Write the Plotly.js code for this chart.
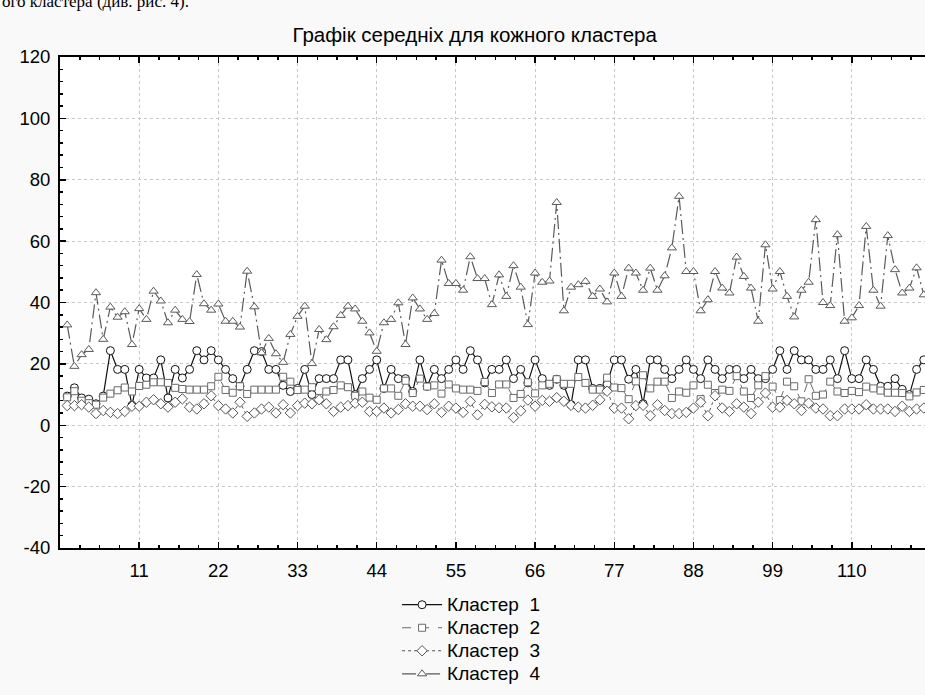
<!DOCTYPE html>
<html>
<head>
<meta charset="utf-8">
<script src="https://cdn.plot.ly/plotly-3.0.1.min.js"></script>
<style>
html,body{margin:0;padding:0;overflow:hidden;background:#f9f9f9;}
#chart{width:940px;height:695px;}
#chart .legendtext{font-size:19px !important;}
#chart .legend .scrollbox{clip-path:none !important;}
</style>
</head>
<body>
<div id="chart"></div>
<script>
// Variable index (x categories)
const variables = Array.from({length:120},(_,k)=>k+1);
const tickValues = [11,22,33,44,55,66,77,88,99,110];
const tickLabels = ['11','22','33','44','55','66','77','88','99','110'];
const yTickValues = [-40,-20,0,20,40,60,80,100,120];
const yTickLabels = ['-40','-20','0','20','40','60','80','100','120'];
const seriesNames = ['Кластер\u00a0 1','Кластер\u00a0 2','Кластер\u00a0 3','Кластер\u00a0 4'];

const cluster1 = [9.5,12.2,8.9,8.5,7,9.5,24.3,18.2,18.2,6.5,
18.2,15.4,15.4,21.3,8.9,18.2,15.4,18.2,24.3,21.3,
24.3,21.3,18.2,15.2,12.7,18.2,24.3,24,18.2,18.2,
13,11,12,18.2,10,15.2,15.2,15.2,21.3,21.3,
10,15.2,18.2,21.3,12,18.2,15.2,15.2,11,21.3,
12.7,18.2,15.2,18.2,21.3,18.2,24.3,21.3,13.8,18.2,
18.2,21.3,15.2,18.2,13.8,21.3,15.2,13,15,13,
6.7,21.3,21.3,12,12,13.5,21.3,21.3,15,18.2,
7,21.3,21.3,18.2,15.2,18.2,21.3,18.2,15.2,21.3,
18.2,15.2,18.2,18.2,15.2,18.2,15.2,15.2,18.2,24.3,
18.2,24.3,21.3,21.3,18.2,18.2,21.3,15.2,24.3,15.2,
15.2,21.3,18.2,12.7,12.7,15.2,11.7,10,18.2,21.3];

const cluster2 = [9.1,11.1,8,7.2,6.7,9,10.3,11.4,12.3,11,
12.8,13.2,14,14,13.8,12.2,11.8,11.6,11.6,11.6,
12.7,15.8,11.5,10.6,12.7,10.2,11.6,11.6,11.6,11.6,
15.8,14.2,11.5,11.6,12.4,8.9,11,11.5,13,12.4,
9.6,11,9,8.3,12,12,9.6,14.5,10.5,15.2,
12.6,13,10.3,13.3,12,11.6,11.6,11.2,14.1,10.5,
13.3,13.3,8.9,10.2,14,10.4,13,13.5,15,13.5,
13.5,15.7,13.8,11.6,11.6,15.5,12.3,12.1,8.5,14.3,
16.3,12,14.2,14.2,8.9,11,10.6,13,8.5,13.2,
10.5,11.6,11.2,16,11,8.9,13,16,12.6,8.2,
14.2,12.7,7.8,15,9.6,10,14.2,11,10.5,11.2,
10.8,12.6,12,11.3,10.6,10.6,10.5,9.4,10.7,11.5];

const cluster3 = [6.4,6.4,6.7,5.9,3.8,4.8,4.2,3.8,4.5,6.2,
6.2,7.5,8.3,7,5.9,7.5,8.6,5.9,5.3,7,
9.6,6.4,5.3,4,7.5,2.9,4,5.3,5.9,4,
6.7,4,6.4,7.2,7,8.3,7,4.5,5.9,6.4,
7.2,7.5,4.5,4.5,5.6,4,5.1,7,6.2,6.2,
5.1,7,4.2,6.2,5.6,4.2,7.8,3.4,6.8,6,
5.7,5.6,2.5,4.7,8.2,6.2,8.1,7.8,9,7.8,
6.5,5.9,5.6,6.5,8.3,11.1,5.6,5.6,2.1,6.4,
6.5,3.1,6.7,4.8,3.8,3.8,4.2,5.6,7.5,3.1,
9.6,5.6,4.5,7,5.9,3.8,7.5,10.5,5.9,5.9,
8.1,7,4.8,7.2,5.6,5.3,3.1,3.1,5.3,5.3,
5.3,6.7,5.3,5.3,5.3,4.5,6.2,4.5,5.3,5.6];

const cluster4 = [32.7,19.2,23,24.7,43.2,28,38.5,35.2,37,26.3,
38,34.5,43.7,40.5,33.4,37.5,34.5,33.8,49.1,39.6,
37.5,39.5,33.9,33.9,32,50.2,38.6,23.6,28.3,23.3,
20.5,29.6,35.5,38.8,20.1,31.2,27.9,32.1,35.8,38.8,
37.9,33.9,30.1,24.1,33.4,34.5,39.9,26.3,41.5,37.9,
34.5,36.4,53.8,46.2,46.2,44,54.9,47.8,47.8,39.3,
49,42,52,45,32.8,49.6,46.6,47,72.6,37.3,
45,45.8,46.9,42,44.4,40.2,49.6,42,51.2,49.6,
44,51.2,44,48.7,57.8,74.6,50.1,50.1,37.3,40.9,
50.1,44.7,43.1,54.8,48.5,44.7,33.9,58.8,44.4,50.1,
42,35.3,44,46.6,67,40,39,62.1,33.9,35,
39,64.8,44,38.8,61.8,50.7,43.1,44.7,51.3,42.5];

const FONT = 'Arial, "Liberation Sans", sans-serif';

function mk(name, y, sym, col, dash, lw, msize){
  return {
    x: variables, y: y, name: name, type: 'scatter', mode: 'lines+markers',
    line: {color: col, width: lw, dash: dash},
    marker: {symbol: sym, size: msize, color: '#ffffff', line: {color: col, width: 1}},
    cliponaxis: true
  };
}

const traces = [
  mk(seriesNames[0], cluster1, 'circle', '#111111', 'solid', 1.2, 8),
  mk(seriesNames[1], cluster2, 'square', '#6a6a6a', 'dash', 1, 7),
  mk(seriesNames[2], cluster3, 'diamond', '#555555', 'dot', 1, 8),
  mk(seriesNames[3], cluster4, 'triangle-up', '#5a5a5a', '14px,4px,2px,4px', 1.2, 8)
];

const layout = {
  width: 940, height: 695,
  margin: {l: 60, r: 9, t: 57, b: 147, autoexpand: false},
  paper_bgcolor: '#f9f9f9', plot_bgcolor: '#ffffff',
  font: {family: FONT, size: 18.5, color: '#000'},
  title: {text: 'Графік середніх для кожного кластера', xref: 'container', x: 0.505, xanchor: 'center', y: 0.95, yanchor: 'middle', font: {size: 20.5, family: FONT}},
  showlegend: true,
  legend: {x: 0.3870, xanchor: 'left', y: -0.0819, yanchor: 'top', bgcolor: 'rgba(0,0,0,0)', font: {size: 15.4, family: FONT}, tracegroupgap: 0, itemwidth: 40},
  xaxis: {
    range: [0, 121], tickmode: 'array', tickvals: tickValues, ticktext: tickLabels,
    ticks: 'inside', ticklen: 6, tickwidth: 1.5, tickcolor: '#000',
    showline: true, linecolor: '#000', linewidth: 2, mirror: 'ticks',
    showgrid: true, gridcolor: '#c8c8c8', griddash: 'dot', gridwidth: 1,
    zeroline: false, tickfont: {size: 18.5, family: FONT}, ticklabelstandoff: 5,
    minor: {dtick: 2.75, tick0: 0, ticks: 'inside', ticklen: 3, tickcolor: '#000', showgrid: false}
  },
  yaxis: {
    range: [-40, 120], tickmode: 'array', tickvals: yTickValues, ticktext: yTickLabels,
    ticks: 'inside', ticklen: 6, tickwidth: 1.5, tickcolor: '#000',
    showline: true, linecolor: '#000', linewidth: 2, mirror: 'ticks',
    showgrid: true, gridcolor: '#c8c8c8', griddash: 'dot', gridwidth: 1,
    zeroline: false, tickfont: {size: 18.5, family: FONT}, ticklabelstandoff: 4,
    minor: {dtick: 4, tick0: 0, ticks: 'inside', ticklen: 3, tickcolor: '#000', showgrid: false}
  },
  annotations: [{
    text: 'ого кластера (див. рис. 4).', xref: 'paper', yref: 'paper',
    x: -60/871, xanchor: 'left', y: 1 + 57/491, yanchor: 'middle', yshift: -1,
    showarrow: false, font: {family: '"Liberation Serif", "Times New Roman", serif', size: 17, color: '#000'}
  }]
};

Plotly.newPlot('chart', traces, layout, {displayModeBar: false, staticPlot: true});
</script>
</body>
</html>
